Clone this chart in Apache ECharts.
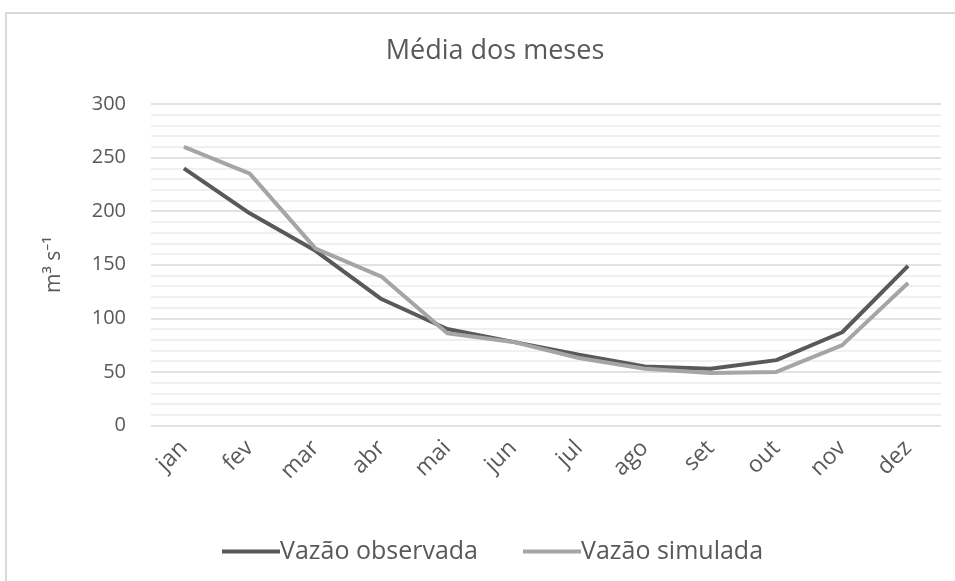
<!DOCTYPE html>
<html>
<head>
<meta charset="utf-8">
<script src="https://cdn.jsdelivr.net/npm/echarts@6/dist/echarts.min.js"></script>
<style>
html, body { margin: 0; padding: 0; background: #fff; overflow: hidden; }
#frame { position: absolute; left: 5px; top: 12px; width: 1000px; height: 700px; border: 2px solid #d9d9d9; box-sizing: border-box; }
#chart { position: absolute; left: 0; top: 0; width: 955px; height: 581px; }
</style>
</head>
<body>
<div id="frame"></div>
<div id="chart"></div>
<script>
var months = ["jan", "fev", "mar", "abr", "mai", "jun", "jul", "ago", "set", "out", "nov", "dez"];
var observada = [240, 198, 163, 118, 90, 78, 66, 55, 53, 61, 87, 149];
var simulada = [260, 235, 165, 139, 86, 78, 63, 53, 49, 50, 75, 133];
var yTicks = [0, 50, 100, 150, 200, 250, 300];

var fam = "'Open Sans', 'Noto Sans', sans-serif";
var txt = "#595959";

var chart = echarts.init(document.getElementById("chart"));
chart.setOption({
	animation: false,
	title: {
		text: "Média dos meses",
		left: 490,
		textAlign: "center",
		top: 33,
		textStyle: { fontFamily: fam, fontSize: 27, fontWeight: "normal", color: txt }
	},
	legend: {
		top: 534,
		left: 217,
		itemWidth: 58,
		itemHeight: 4,
		itemGap: 45,
		icon: "rect",
		textStyle: { fontFamily: fam, fontSize: 25, color: txt, padding: [0, 0, 0, -5] },
		data: ["Vazão observada", "Vazão simulada"]
	},
	grid: { left: 151, right: 14, top: 104, bottom: 155.5 },
	xAxis: {
		type: "category",
		data: months,
		boundaryGap: true,
		axisLine: { show: false },
		axisTick: { show: false },
		axisLabel: { rotate: 45, fontFamily: fam, fontSize: 23, color: txt, margin: 19 }
	},
	yAxis: {
		type: "value",
		min: yTicks[0],
		max: yTicks[yTicks.length - 1],
		interval: 50,
		name: "m³ s⁻¹",
		nameLocation: "middle",
		nameGap: 86,
		nameTextStyle: { fontFamily: fam, fontSize: 21, color: txt },
		axisLine: { show: false },
		axisTick: { show: false },
		axisLabel: { fontFamily: fam, fontSize: 20, color: txt, margin: 25 },
		splitLine: { lineStyle: { color: "#d9d9d9", width: 1.5 } },
		minorTick: { show: false, splitNumber: 5 },
		minorSplitLine: { show: true, lineStyle: { color: "#ebebeb", width: 1.5 } }
	},
	series: [{
		name: "Vazão observada",
		type: "line",
		data: observada,
		symbol: "none",
		color: "#595959",
		lineStyle: { width: 4, color: "#595959" }
	}, {
		name: "Vazão simulada",
		type: "line",
		data: simulada,
		symbol: "none",
		color: "#a5a5a5",
		lineStyle: { width: 4, color: "#a5a5a5" }
	}]
});
</script>
</body>
</html>
